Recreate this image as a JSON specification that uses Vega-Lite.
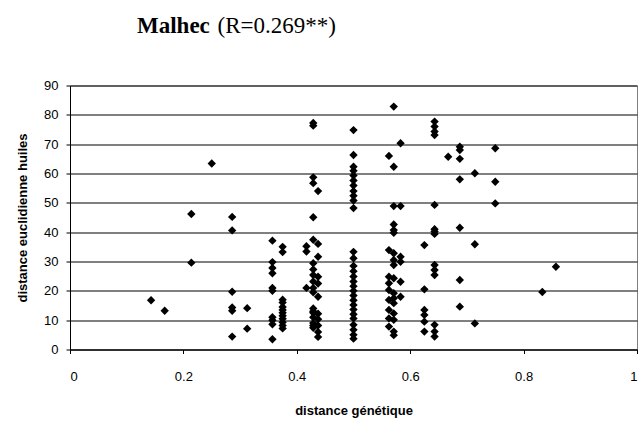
{
  "$schema": "https://vega.github.io/schema/vega-lite/v6.json",
  "width": 567,
  "height": 264,
  "autosize": {"type": "none"},
  "padding": {"left": 70, "top": 85.5, "right": 3, "bottom": 71.5},
  "background": "white",
  "title": {
    "text": "Malhec",
    "subtitle": "\u200b\u00a0\u00a0\u00a0\u00a0\u00a0\u00a0\u00a0\u00a0\u00a0\u00a0\u00a0\u00a0\u00a0\u00a0(R=0.269**)",
    "anchor": "start",
    "frame": "group",
    "dx": 67,
    "offset": 42,
    "font": "Liberation Serif",
    "fontSize": 23,
    "fontWeight": "bold",
    "color": "black",
    "subtitleFont": "Liberation Serif",
    "subtitleFontSize": 23,
    "subtitleFontWeight": "normal",
    "subtitleColor": "black",
    "subtitlePadding": -23
  },
  "config": {
    "view": {"stroke": "#808080", "strokeWidth": 1},
    "axis": {
      "labelFont": "Liberation Sans",
      "labelFontSize": 13,
      "labelColor": "black",
      "titleFont": "Liberation Sans",
      "titleFontSize": 13,
      "titleFontWeight": "bold",
      "titleColor": "black",
      "domainColor": "black",
      "tickColor": "black",
      "tickSize": 4,
      "gridColor": "black",
      "gridOpacity": 1,
      "gridWidth": 1
    }
  },
  "data": {
    "values": [
      {"x": 0.143, "y": 16.8}, {"x": 0.167, "y": 13.2}, {"x": 0.214, "y": 46.2}, {"x": 0.214, "y": 29.6},
      {"x": 0.25, "y": 63.4}, {"x": 0.286, "y": 45.2}, {"x": 0.286, "y": 40.6}, {"x": 0.286, "y": 19.7},
      {"x": 0.286, "y": 14.3}, {"x": 0.286, "y": 13.2}, {"x": 0.286, "y": 4.4}, {"x": 0.3125, "y": 14.1},
      {"x": 0.3125, "y": 7.1},
      {"x": 0.357, "y": 37.1}, {"x": 0.357, "y": 29.8}, {"x": 0.357, "y": 27.8}, {"x": 0.357, "y": 26.0},
      {"x": 0.357, "y": 21.0}, {"x": 0.357, "y": 20.0}, {"x": 0.357, "y": 11.0}, {"x": 0.357, "y": 10.0},
      {"x": 0.357, "y": 8.6}, {"x": 0.357, "y": 3.5},
      {"x": 0.375, "y": 35.0}, {"x": 0.375, "y": 33.2}, {"x": 0.375, "y": 17.0}, {"x": 0.375, "y": 16.0},
      {"x": 0.375, "y": 14.5}, {"x": 0.375, "y": 13.5}, {"x": 0.375, "y": 12.5}, {"x": 0.375, "y": 11.5},
      {"x": 0.375, "y": 10.5}, {"x": 0.375, "y": 9.3}, {"x": 0.375, "y": 8.2}, {"x": 0.375, "y": 7.2},
      {"x": 0.417, "y": 35.2}, {"x": 0.417, "y": 33.4}, {"x": 0.417, "y": 21.0},
      {"x": 0.429, "y": 77.2}, {"x": 0.429, "y": 76.3}, {"x": 0.429, "y": 58.7}, {"x": 0.429, "y": 56.7},
      {"x": 0.429, "y": 45.1}, {"x": 0.429, "y": 37.4}, {"x": 0.429, "y": 29.4}, {"x": 0.429, "y": 27.3},
      {"x": 0.429, "y": 25.4}, {"x": 0.429, "y": 23.2}, {"x": 0.429, "y": 21.0}, {"x": 0.429, "y": 19.5},
      {"x": 0.429, "y": 14.0}, {"x": 0.429, "y": 13.0}, {"x": 0.429, "y": 12.5}, {"x": 0.429, "y": 11.0},
      {"x": 0.429, "y": 9.0}, {"x": 0.429, "y": 8.2}, {"x": 0.429, "y": 7.4},
      {"x": 0.4375, "y": 54.0}, {"x": 0.4375, "y": 36.0}, {"x": 0.4375, "y": 31.6}, {"x": 0.4375, "y": 24.8},
      {"x": 0.4375, "y": 22.5}, {"x": 0.4375, "y": 18.0}, {"x": 0.4375, "y": 12.2}, {"x": 0.4375, "y": 10.3},
      {"x": 0.4375, "y": 8.2}, {"x": 0.4375, "y": 6.0}, {"x": 0.4375, "y": 4.3},
      {"x": 0.5, "y": 74.8}, {"x": 0.5, "y": 66.3}, {"x": 0.5, "y": 62.3}, {"x": 0.5, "y": 60.9},
      {"x": 0.5, "y": 59.3}, {"x": 0.5, "y": 57.6}, {"x": 0.5, "y": 55.9}, {"x": 0.5, "y": 54.0},
      {"x": 0.5, "y": 52.4}, {"x": 0.5, "y": 50.8}, {"x": 0.5, "y": 48.2}, {"x": 0.5, "y": 33.3},
      {"x": 0.5, "y": 31.1}, {"x": 0.5, "y": 28.5}, {"x": 0.5, "y": 26.7}, {"x": 0.5, "y": 24.9},
      {"x": 0.5, "y": 23.2}, {"x": 0.5, "y": 21.6}, {"x": 0.5, "y": 20.0}, {"x": 0.5, "y": 18.4},
      {"x": 0.5, "y": 16.8}, {"x": 0.5, "y": 15.2}, {"x": 0.5, "y": 13.6}, {"x": 0.5, "y": 12.0},
      {"x": 0.5, "y": 10.6}, {"x": 0.5, "y": 8.4}, {"x": 0.5, "y": 6.7}, {"x": 0.5, "y": 5.0},
      {"x": 0.5, "y": 3.7},
      {"x": 0.5625, "y": 66.0}, {"x": 0.5625, "y": 33.9}, {"x": 0.5625, "y": 24.8}, {"x": 0.5625, "y": 22.6},
      {"x": 0.5625, "y": 20.3}, {"x": 0.5625, "y": 16.9}, {"x": 0.5625, "y": 13.5}, {"x": 0.5625, "y": 10.6},
      {"x": 0.5625, "y": 7.8},
      {"x": 0.571, "y": 82.8}, {"x": 0.571, "y": 62.3}, {"x": 0.571, "y": 48.9}, {"x": 0.571, "y": 42.6},
      {"x": 0.571, "y": 40.7}, {"x": 0.571, "y": 39.8}, {"x": 0.571, "y": 32.8}, {"x": 0.571, "y": 30.5},
      {"x": 0.571, "y": 28.8}, {"x": 0.571, "y": 24.3}, {"x": 0.571, "y": 19.2}, {"x": 0.571, "y": 17.5},
      {"x": 0.571, "y": 15.8}, {"x": 0.571, "y": 12.3}, {"x": 0.571, "y": 10.1}, {"x": 0.571, "y": 6.1},
      {"x": 0.571, "y": 4.9},
      {"x": 0.583, "y": 70.3}, {"x": 0.583, "y": 48.9}, {"x": 0.583, "y": 31.6}, {"x": 0.583, "y": 29.9},
      {"x": 0.583, "y": 23.1}, {"x": 0.583, "y": 18.0},
      {"x": 0.625, "y": 35.6}, {"x": 0.625, "y": 20.5}, {"x": 0.625, "y": 13.5}, {"x": 0.625, "y": 11.8},
      {"x": 0.625, "y": 9.5}, {"x": 0.625, "y": 6.1},
      {"x": 0.643, "y": 77.7}, {"x": 0.643, "y": 76.0}, {"x": 0.643, "y": 74.3}, {"x": 0.643, "y": 73.1},
      {"x": 0.643, "y": 49.3}, {"x": 0.643, "y": 41.0}, {"x": 0.643, "y": 40.2}, {"x": 0.643, "y": 39.4},
      {"x": 0.643, "y": 28.8}, {"x": 0.643, "y": 27.1}, {"x": 0.643, "y": 25.4}, {"x": 0.643, "y": 8.4},
      {"x": 0.643, "y": 6.1}, {"x": 0.643, "y": 4.4},
      {"x": 0.667, "y": 65.7},
      {"x": 0.6875, "y": 69.1}, {"x": 0.6875, "y": 68.0}, {"x": 0.6875, "y": 65.0}, {"x": 0.6875, "y": 58.0},
      {"x": 0.6875, "y": 41.5}, {"x": 0.6875, "y": 23.7}, {"x": 0.6875, "y": 14.6},
      {"x": 0.714, "y": 60.1}, {"x": 0.714, "y": 35.9}, {"x": 0.714, "y": 8.9},
      {"x": 0.75, "y": 68.6}, {"x": 0.75, "y": 57.2}, {"x": 0.75, "y": 49.8},
      {"x": 0.833, "y": 19.6}, {"x": 0.857, "y": 28.2}
    ]
  },
  "mark": {"type": "point", "shape": "diamond", "filled": true, "color": "black", "opacity": 1, "size": 70},
  "encoding": {
    "x": {
      "field": "x", "type": "quantitative",
      "scale": {"domain": [0, 1], "nice": false, "zero": false},
      "axis": {"title": "distance génétique", "values": [0, 0.2, 0.4, 0.6, 0.8, 1], "format": "~g", "grid": false, "labelPadding": 17, "titlePadding": 21}
    },
    "y": {
      "field": "y", "type": "quantitative",
      "scale": {"domain": [0, 90], "nice": false},
      "axis": {"title": "distance euclidienne huiles", "values": [0, 10, 20, 30, 40, 50, 60, 70, 80, 90], "grid": true, "labelPadding": 8, "titlePadding": 14}
    }
  }
}
